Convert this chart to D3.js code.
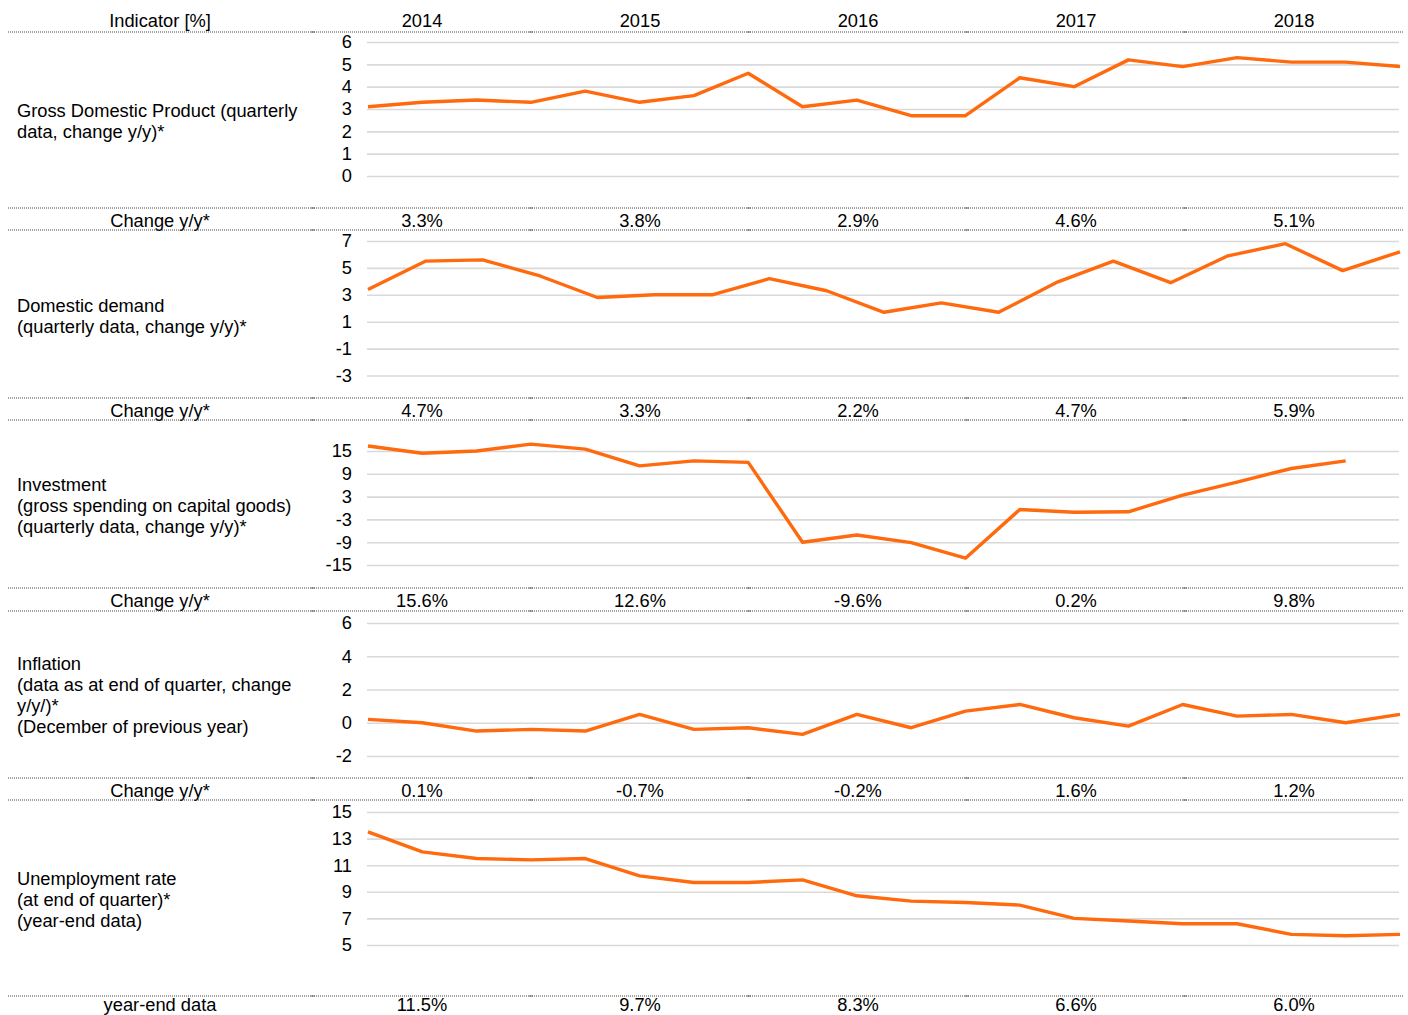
<!DOCTYPE html>
<html>
<head>
<meta charset="utf-8">
<script src="https://cdn.jsdelivr.net/npm/d3@7"></script>
<style>
  body { margin: 0; background: #fff; }
  text { font-family: "Liberation Sans", Arial, sans-serif; fill: #000; }
</style>
</head>
<body>
<svg id="chart" width="1408" height="1015"></svg>
<script>
// ---------- data ----------
const years = ["2014", "2015", "2016", "2017", "2018"];
const quarters = ["Q1 14","Q2 14","Q3 14","Q4 14","Q1 15","Q2 15","Q3 15","Q4 15","Q1 16","Q2 16","Q3 16","Q4 16","Q1 17","Q2 17","Q3 17","Q4 17","Q1 18","Q2 18","Q3 18","Q4 18"];
const ddPeriods = d3.range(1, 20).map(i => "P" + i);

const gdpValues = [3.1,3.3,3.4,3.3,3.8,3.3,3.6,4.6,3.1,3.4,2.7,2.7,4.4,4.0,5.2,4.9,5.3,5.1,5.1,4.9];
const demandValues = [3.4,5.5,5.6,4.4,2.8,3.0,3.0,4.2,3.3,1.7,2.4,1.7,3.9,5.5,3.9,5.9,6.8,4.8,6.2];
const investValues = [16.3,14.4,15.0,16.8,15.5,11.1,12.4,12.0,-9.0,-7.1,-9.1,-13.2,-0.4,-1.1,-1.0,3.4,6.8,10.4,12.4,null];
const inflationValues = [0.2,0.0,-0.5,-0.4,-0.5,0.5,-0.4,-0.3,-0.7,0.5,-0.3,0.7,1.1,0.3,-0.2,1.1,0.4,0.5,0.0,0.5];
const unempValues = [13.5,12.0,11.5,11.4,11.5,10.2,9.7,9.7,9.9,8.7,8.3,8.2,8.0,7.0,6.8,6.6,6.6,5.8,5.7,5.8];

const gdpTicks = [0,1,2,3,4,5,6];
const demandTicks = [-3,-1,1,3,5,7];
const investTicks = [-15,-9,-3,3,9,15];
const inflationTicks = [-2,0,2,4,6];
const unempTicks = [5,7,9,11,13,15];

const gdpAnnual = ["3.3%","3.8%","2.9%","4.6%","5.1%"];
const demandAnnual = ["4.7%","3.3%","2.2%","4.7%","5.9%"];
const investAnnual = ["15.6%","12.6%","-9.6%","0.2%","9.8%"];
const inflationAnnual = ["0.1%","-0.7%","-0.2%","1.6%","1.2%"];
const unempAnnual = ["11.5%","9.7%","8.3%","6.6%","6.0%"];

const gdpLabel = ["Gross Domestic Product (quarterly", "data, change y/y)*"];
const demandLabel = ["Domestic demand", "(quarterly data, change y/y)*"];
const investLabel = ["Investment", "(gross spending on capital goods)", "(quarterly data, change y/y)*"];
const inflationLabel = ["Inflation", "(data as at end of quarter, change", "y/y/)*", "(December of previous year)"];
const unempLabel = ["Unemployment rate", "(at end of quarter)*", "(year-end data)"];

// ---------- layout ----------
const svg = d3.select("#chart");
const FS = 18.3;
const LEFT_X = 8, RIGHT_X = 1404;
const colEdges = [313, 531, 749, 967, 1185, 1403];
const labelCenter = 160;
const plotX0 = 367, plotX1 = 1399;
const lineColor = "#ff6a0e";

const yearX = d3.scaleBand().domain(years).range([313, 1403]);

function dotted(y) {
  svg.append("line").attr("x1", LEFT_X).attr("x2", RIGHT_X).attr("y1", y).attr("y2", y)
    .attr("stroke", "#444").attr("stroke-width", 1).attr("stroke-dasharray", "1,1");
  colEdges.slice(0, 5).forEach(x => {
    svg.append("line").attr("x1", x - 2).attr("x2", x + 2).attr("y1", y).attr("y2", y)
      .attr("stroke", "#666").attr("stroke-width", 1);
  });
}

// header
svg.append("text").attr("x", labelCenter).attr("y", 26.5).attr("text-anchor", "middle")
  .attr("font-size", FS).text("Indicator [%]");
svg.selectAll(".yr").data(years).enter().append("text")
  .attr("x", d => yearX(d) + yearX.bandwidth() / 2).attr("y", 26.5)
  .attr("text-anchor", "middle").attr("font-size", FS).text(d => d);

const panels = [
  { top: 32, bottom: 208, labelY: 110, label: gdpLabel, cats: quarters, values: gdpValues,
    ticks: gdpTicks, dom: [0, 6], rng: [176, 42], annual: gdpAnnual, rowLabel: "Change y/y*" },
  { top: 230, bottom: 398, labelY: 305, label: demandLabel, cats: ddPeriods, values: demandValues,
    ticks: demandTicks, dom: [-3, 7], rng: [375.5, 241], annual: demandAnnual, rowLabel: "Change y/y*" },
  { top: 420, bottom: 588, labelY: 484, label: investLabel, cats: quarters, values: investValues,
    ticks: investTicks, dom: [-15, 15], rng: [565, 451], annual: investAnnual, rowLabel: "Change y/y*" },
  { top: 611, bottom: 778, labelY: 663, label: inflationLabel, cats: quarters, values: inflationValues,
    ticks: inflationTicks, dom: [-2, 6], rng: [756, 623], annual: inflationAnnual, rowLabel: "Change y/y*" },
  { top: 800, bottom: 996, labelY: 878, label: unempLabel, cats: quarters, values: unempValues,
    ticks: unempTicks, dom: [5, 15], rng: [945, 812], annual: unempAnnual, rowLabel: "year-end data" }
];

panels.forEach(p => {
  dotted(p.top);
  dotted(p.bottom);

  // indicator label
  const t = svg.append("text").attr("x", 17).attr("y", p.labelY + 6.5).attr("font-size", FS);
  p.label.forEach((ln, i) => t.append("tspan").attr("x", 17).attr("dy", i === 0 ? 0 : 21.3).text(ln));

  const x = d3.scalePoint().domain(p.cats).range([368, 1400]);
  const y = d3.scaleLinear().domain(p.dom).range(p.rng);

  const ax = svg.append("g").attr("transform", `translate(${plotX0},0)`)
    .call(d3.axisLeft(y).tickValues(p.ticks).tickSize(-(plotX1 - plotX0)).tickPadding(15).tickFormat(d => String(d)));
  ax.select(".domain").remove();
  ax.selectAll(".tick line").attr("stroke", "#d9d9d9").attr("stroke-width", 1.6);
  ax.selectAll(".tick text").attr("font-size", FS).attr("fill", "#000")
    .attr("font-family", "Liberation Sans, Arial, sans-serif");

  const line = d3.line()
    .defined(d => d.v !== null)
    .x(d => x(d.c)).y(d => y(d.v));
  svg.append("path")
    .datum(p.cats.map((c, i) => ({ c, v: p.values[i] })))
    .attr("d", line).attr("fill", "none").attr("stroke", lineColor)
    .attr("stroke-width", 3.4).attr("stroke-linejoin", "round");

  // annual row
  const rowY = p.rowLabel === "year-end data" ? 1010.5 : p.bottom + 18.5;
  svg.append("text").attr("x", labelCenter).attr("y", rowY).attr("text-anchor", "middle")
    .attr("font-size", FS).text(p.rowLabel);
  svg.selectAll(null).data(p.annual).enter().append("text")
    .attr("x", (d, i) => yearX(years[i]) + yearX.bandwidth() / 2).attr("y", rowY)
    .attr("text-anchor", "middle").attr("font-size", FS).text(d => d);
});
</script>
</body>
</html>
